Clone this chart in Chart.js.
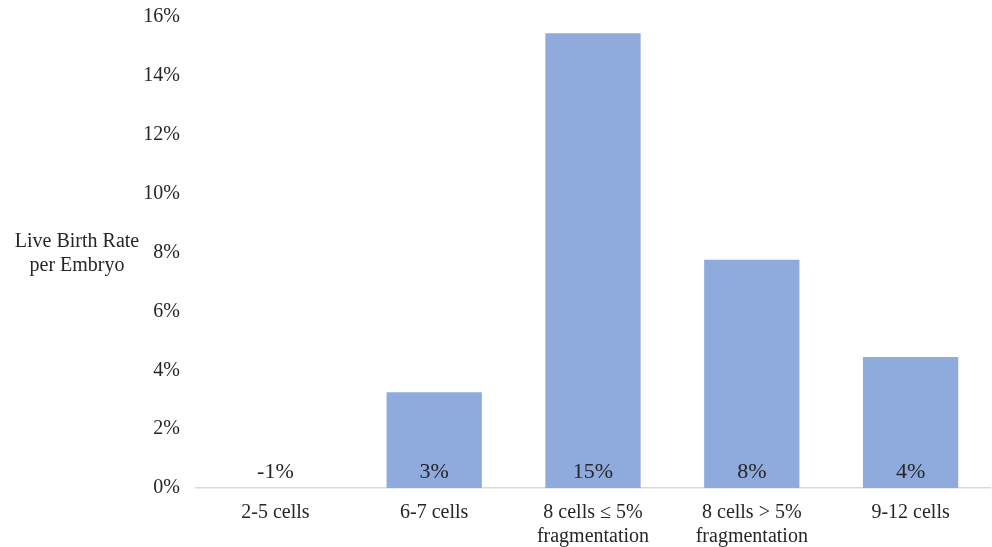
<!DOCTYPE html>
<html>
<head>
<meta charset="utf-8">
<script src="https://cdn.jsdelivr.net/npm/chart.js@4"></script>
<style>
  html, body { margin: 0; padding: 0; background: #fff; }
  #wrap { width: 992px; height: 547px; }
</style>
</head>
<body>
<div id="wrap"><canvas id="chart"></canvas></div>
<script>
// ── Data ──────────────────────────────────────────────
const categories = [
  '2-5 cells',
  '6-7 cells',
  ['8 cells \u2264 5%', 'fragmentation'],
  ['8 cells > 5%', 'fragmentation'],
  '9-12 cells',
];
const liveBirthRate = [-0.05, 3.25, 15.45, 7.75, 4.45];
const barLabels = ['-1%', '3%', '15%', '8%', '4%'];
const yTicks = [0, 2, 4, 6, 8, 10, 12, 14, 16];
const yTitle = ['Live Birth Rate', 'per Embryo'];

const FONT = "'Liberation Serif', 'Times New Roman', serif";
Chart.defaults.font.family = FONT;
Chart.defaults.color = '#262626';

// ── Labels inside bars + horizontal y title ───────────
const labelPlugin = {
  id: 'labels',
  afterDatasetsDraw(chart) {
    const { ctx, scales } = chart;
    const meta = chart.getDatasetMeta(0);
    const zeroY = scales.y.getPixelForValue(0);
    ctx.save();
    ctx.font = '22px ' + FONT;
    ctx.fillStyle = '#262626';
    ctx.textAlign = 'center';
    ctx.textBaseline = 'middle';
    meta.data.forEach((bar, i) => {
      ctx.fillText(barLabels[i], bar.x, zeroY - 16);
    });
    // y title, horizontal, left of tick labels
    ctx.font = '20px ' + FONT;
    const cy = scales.y.getPixelForValue(8);
    ctx.fillText(yTitle[0], 77, cy - 11);
    ctx.fillText(yTitle[1], 77, cy + 13);
    ctx.restore();
  },
};

new Chart(document.getElementById('chart'), {
  type: 'bar',
  data: {
    labels: categories,
    datasets: [{
      data: liveBirthRate,
      backgroundColor: '#8FAADC',
      borderWidth: 0,
      categoryPercentage: 1,
      barPercentage: 0.6,
    }],
  },
  options: {
    responsive: true,
    maintainAspectRatio: false,
    animation: false,
    layout: { padding: { left: 0, right: 2, top: 17, bottom: 0 } },
    plugins: { legend: { display: false }, tooltip: { enabled: false } },
    scales: {
      x: {
        grid: { display: false, drawTicks: false },
        border: { color: '#D9D9D9', width: 1.5 },
        ticks: { font: { size: 20, lineHeight: 1.2 }, padding: 13, maxRotation: 0, color: '#262626' },
        afterFit(axis) { axis.height = 59; },
      },
      y: {
        min: 0,
        max: 16,
        afterBuildTicks(axis) { axis.ticks = yTicks.map(v => ({ value: v })); },
        afterFit(axis) {
          axis.width = 196;
          axis.paddingTop = 0;
          axis.paddingBottom = 0;
        },
        grid: { display: false, drawTicks: false },
        border: { display: false },
        ticks: {
          font: { size: 20 },
          padding: 16,
          color: '#262626',
          callback: v => v + '%',
        },
      },
    },
  },
  plugins: [labelPlugin],
});
</script>
</body>
</html>
